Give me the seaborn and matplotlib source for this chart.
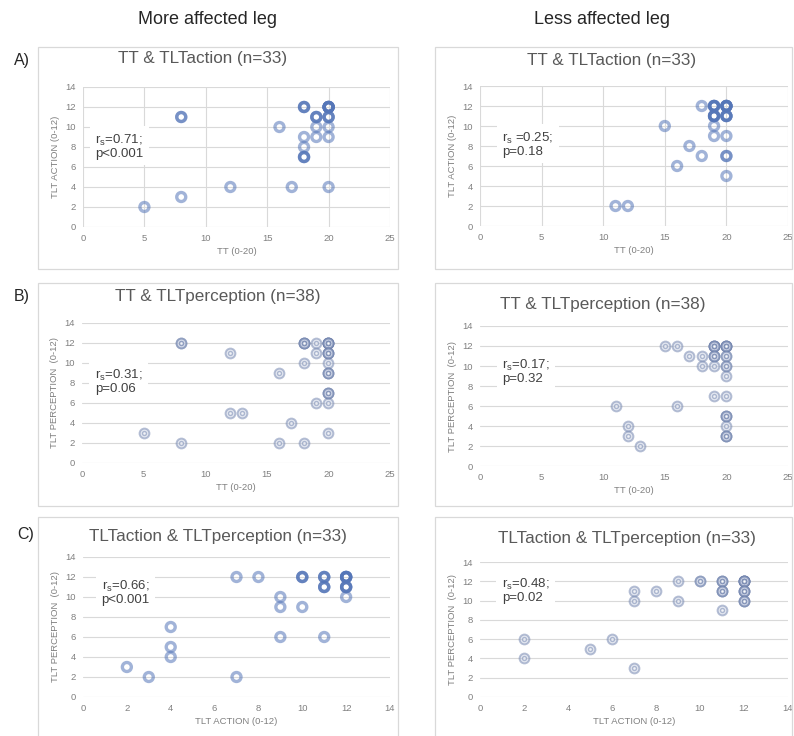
import matplotlib
matplotlib.use("Agg")
import matplotlib.pyplot as plt
import seaborn as sns
import numpy as np
import pandas as pd
from matplotlib.patches import Rectangle

sns.set_style("white")
plt.rcParams["font.family"] = ["Liberation Sans", "DejaVu Sans"]

# A) TT & TLTaction, more affected leg  (unique points + how many overlap)
a_more_x = [5, 8, 8, 12, 16, 17, 18, 18, 18, 18, 19, 19, 19, 20, 20, 20, 20, 20]
a_more_y = [2, 3, 11, 4, 10, 4, 12, 9, 8, 7, 11, 10, 9, 12, 11, 10, 9, 4]
a_more_n = [1, 1, 2, 1, 1, 1, 3, 1, 1, 3, 3, 1, 1, 7, 3, 1, 1, 1]

# A) less affected leg
a_less_x = [11, 12, 15, 16, 17, 18, 18, 19, 19, 19, 19, 20, 20, 20, 20, 20]
a_less_y = [2, 2, 10, 6, 8, 7, 12, 12, 11, 10, 9, 12, 11, 9, 7, 5]
a_less_n = [1, 1, 1, 1, 1, 1, 1, 5, 5, 1, 1, 6, 4, 1, 2, 1]

# B) TT & TLTperception, more affected leg
b_more_x = [5, 8, 8, 12, 12, 13, 16, 16, 17, 18, 18, 18, 19, 19, 19, 20, 20, 20, 20, 20, 20, 20]
b_more_y = [3, 12, 2, 11, 5, 5, 9, 2, 4, 12, 10, 2, 12, 11, 6, 12, 11, 10, 9, 7, 6, 3]
b_more_n = [1, 2, 1, 1, 1, 1, 1, 1, 1, 4, 1, 1, 1, 1, 1, 6, 4, 1, 3, 3, 1, 1]

# B) less affected leg
b_less_x = [11, 12, 12, 13, 15, 16, 16, 17, 18, 18, 19, 19, 19, 19, 20, 20, 20, 20, 20, 20, 20, 20]
b_less_y = [6, 4, 3, 2, 12, 12, 6, 11, 11, 10, 12, 11, 10, 7, 12, 11, 10, 9, 7, 5, 4, 3]
b_less_n = [1, 1, 1, 1, 1, 1, 1, 1, 1, 1, 5, 3, 1, 1, 5, 2, 2, 1, 1, 3, 1, 3]

# C) TLTaction & TLTperception, more affected leg
c_more_x = [2, 3, 4, 4, 4, 7, 7, 8, 9, 9, 9, 10, 10, 11, 11, 11, 12, 12, 12]
c_more_y = [3, 2, 7, 5, 4, 12, 2, 12, 10, 9, 6, 12, 9, 12, 11, 6, 12, 11, 10]
c_more_n = [1, 1, 1, 1, 1, 1, 1, 1, 1, 1, 1, 3, 1, 3, 3, 1, 6, 4, 1]

# C) less affected leg
c_less_x = [2, 2, 5, 6, 7, 7, 7, 8, 9, 9, 10, 11, 11, 11, 12, 12, 12]
c_less_y = [6, 4, 5, 6, 11, 10, 3, 11, 12, 10, 12, 12, 11, 9, 12, 11, 10]
c_less_n = [1, 1, 1, 1, 1, 1, 1, 1, 1, 1, 2, 3, 3, 1, 7, 4, 3]

stats = ["r$_\\mathregular{s}$=0.71;\np<0.001", "r$_\\mathregular{s}$ =0.25;\np=0.18",
         "r$_\\mathregular{s}$=0.31;\np=0.06", "r$_\\mathregular{s}$=0.17;\np=0.32",
         "r$_\\mathregular{s}$=0.66;\np<0.001", "r$_\\mathregular{s}$=0.48;\np=0.02"]
titles = ["TT & TLTaction (n=33)", "TT & TLTaction (n=33)",
          "TT & TLTperception (n=38)", "TT & TLTperception (n=38)",
          "TLTaction & TLTperception (n=33)", "TLTaction & TLTperception (n=33)"]

W, H = 794, 736
fig = plt.figure(figsize=(W / 100, H / 100), dpi=100)


def px_rect(x0, y0, x1, y1):
    return [x0 / W, 1 - y1 / H, (x1 - x0) / W, (y1 - y0) / H]


# panel frames (pixel boxes)
frames = [(38, 47, 398, 269), (435, 47, 792, 269),
          (38, 283, 398, 506), (435, 283, 792, 506),
          (38, 517, 398, 740), (435, 517, 792, 740)]
for x0, y0, x1, y1 in frames:
    fig.patches.append(Rectangle((x0 / W, 1 - y1 / H), (x1 - x0) / W, (y1 - y0) / H,
                                 transform=fig.transFigure, fill=False,
                                 ec="#d9d9d9", lw=0.9))

axes_px = [(83, 87, 390, 227), (480, 86, 788, 226),
           (82, 323, 390, 463), (480, 326, 788, 466),
           (83, 557, 390, 697), (480, 562, 788, 697)]
title_px = [(203, 59), (612, 61), (218, 296), (603, 305), (218, 537), (627, 538)]
stat_pos = [(1.0, 8.1), (1.8, 8.2), (1.05, 8.2), (1.8, 9.5), (0.85, 10.5), (1.0, 11.0)]

panels = [(a_more_x, a_more_y, a_more_n), (a_less_x, a_less_y, a_less_n),
          (b_more_x, b_more_y, b_more_n), (b_less_x, b_less_y, b_less_n),
          (c_more_x, c_more_y, c_more_n), (c_less_x, c_less_y, c_less_n)]

for i, (xs, ys, ns) in enumerate(panels):
    ax = fig.add_axes(px_rect(*axes_px[i]))
    df = pd.DataFrame({"x": np.repeat(xs, ns), "y": np.repeat(ys, ns)})
    row = i // 2
    double_ring = (row == 1) or (i == 5)
    if double_ring:
        sns.scatterplot(data=df, x="x", y="y", ax=ax, marker="o", s=50,
                        facecolor="#c9d1e3", edgecolor="#6f82ad", linewidth=1.4,
                        alpha=0.5, legend=False, zorder=3)
        sns.scatterplot(data=df, x="x", y="y", ax=ax, marker="o", s=8,
                        facecolor="white", edgecolor="#6f82ad", linewidth=1.0,
                        alpha=0.5, legend=False, zorder=4)
    else:
        sns.scatterplot(data=df, x="x", y="y", ax=ax, marker="o", s=42,
                        facecolor="none", edgecolor="#5576b8", linewidth=2.4,
                        alpha=0.55, legend=False, zorder=3)

    if row < 2:
        ax.set_xlim(0, 25)
        ax.set_xticks(range(0, 26, 5))
        ax.set_xlabel("TT (0-20)", fontsize=6.8, color="#808080", labelpad=3)
    else:
        ax.set_xlim(0, 14)
        ax.set_xticks(range(0, 15, 2))
        ax.set_xlabel("TLT ACTION (0-12)", fontsize=6.8, color="#808080", labelpad=3)
    ax.set_ylim(0, 14)
    ax.set_yticks(range(0, 15, 2))
    ax.set_ylabel("TLT ACTION (0-12)" if row == 0 else "TLT PERCEPTION  (0-12)",
                  fontsize=6.8, color="#808080", labelpad=4)

    ax.tick_params(length=0, labelsize=6.8, labelcolor="#808080", pad=5)
    for sp in ax.spines.values():
        sp.set_visible(False)
    ax.grid(True, axis="y", color="#d9d9d9", lw=0.8)
    if row == 0:
        ax.grid(True, axis="x", color="#d9d9d9", lw=0.8)
    ax.set_axisbelow(True)

    sx, sy = stat_pos[i]
    ax.text(sx, sy, stats[i], fontsize=9.5, color="#404040", va="center", ha="left",
            linespacing=1.0, zorder=2,
            bbox=dict(facecolor="white", edgecolor="none", pad=4))

    tx, ty = title_px[i]
    fig.text(tx / W, 1 - ty / H, titles[i], fontsize=12.3, color="#595959",
             ha="center", va="center")

fig.text(208 / W, 1 - 20 / H, "More affected leg", fontsize=13, color="#262626",
         ha="center", va="center")
fig.text(602 / W, 1 - 20 / H, "Less affected leg", fontsize=13, color="#262626",
         ha="center", va="center")
for lab, (x, y) in zip(["A)", "B)", "C)"], [(22, 60), (22, 297), (26, 535)]):
    fig.text(x / W, 1 - y / H, lab, fontsize=11.5, color="#262626",
             ha="center", va="center")

fig.savefig("out.png", dpi=100, facecolor="white")
